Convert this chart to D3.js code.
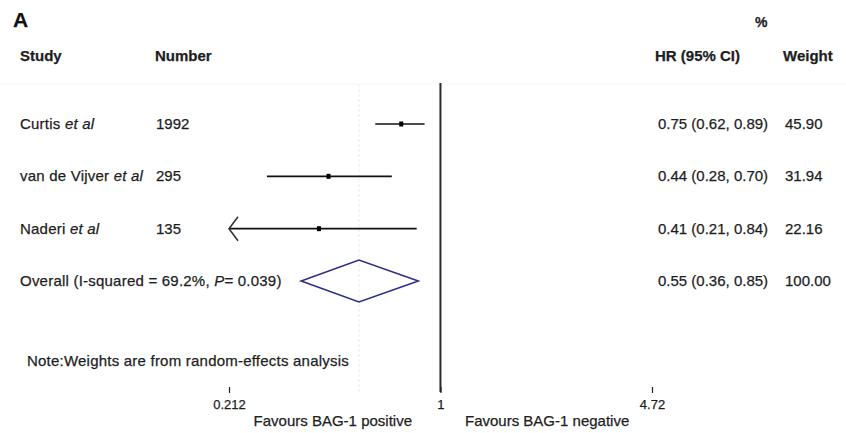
<!DOCTYPE html>
<html>
<head>
<meta charset="utf-8">
<script src="https://cdn.jsdelivr.net/npm/d3@7"></script>
<style>
  html, body { margin: 0; padding: 0; background: #fff; }
  svg { display: block; font-family: "Liberation Sans", Arial, sans-serif; }
  svg text { stroke: #1e1e1e; stroke-width: 0.25px; }
</style>
</head>
<body>
<svg id="chart" width="846" height="433"></svg>
<script>
// ---- data ----
const studies = ["Curtis", "van de Vijver", "Naderi"];
const numbers = ["1992", "295", "135"];
const hr = [0.75, 0.44, 0.41];
const ciLow = [0.62, 0.28, 0.21];
const ciHigh = [0.89, 0.70, 0.84];
const weights = ["45.90", "31.94", "22.16"];
const overallHR = 0.55;
const overallLow = 0.36;
const overallHigh = 0.85;
const overallWeight = "100.00";
const tickValues = [0.212, 1, 4.72];
const tickLabels = ["0.212", "1", "4.72"];

const svg = d3.select("#chart");
const textColor = "#1e1e1e";
const ls = "0.22px";

const x = d3.scaleLog().domain([0.212, 4.72]).range([229, 652]);
const y = d3.scalePoint().domain([0, 1, 2, 3]).range([124, 281]);
const xMin = x.domain()[0];

// faint top border and overall effect line
svg.append("line").attr("x1", 0).attr("x2", 846).attr("y1", 84).attr("y2", 84)
  .attr("stroke", "#f7f7f7").attr("stroke-width", 1);
svg.append("line")
  .attr("x1", x(overallHR)).attr("x2", x(overallHR))
  .attr("y1", 84).attr("y2", 392)
  .attr("stroke", "#ececec").attr("stroke-width", 1).attr("stroke-dasharray", "3,2");

// null line
svg.append("line")
  .attr("x1", x(1)).attr("x2", x(1)).attr("y1", 83).attr("y2", 392)
  .attr("stroke", "#2a2a2a").attr("stroke-width", 2);

// axis
const axis = d3.axisBottom(x).tickValues(tickValues)
  .tickFormat((d, i) => tickLabels[i]).tickSize(6).tickPadding(7);
const gAxis = svg.append("g").attr("transform", "translate(0,387)").call(axis);
gAxis.select(".domain").remove();
gAxis.selectAll(".tick line").attr("stroke", "#222").attr("stroke-width", 1.2);
gAxis.selectAll(".tick text").attr("fill", textColor)
  .style("font-size", "13px").style("font-family", "'Liberation Sans', Arial, sans-serif");

// headers
svg.append("text").attr("x", 13).attr("y", 27).text("A")
  .attr("font-size", 21).attr("font-weight", "bold").attr("fill", "#111");
const hdr = [["Study", 20], ["Number", 155], ["HR (95% CI)", 655], ["Weight", 783]];
hdr.forEach(([t, px]) => {
  svg.append("text").attr("x", px).attr("y", 61).text(t)
    .attr("font-size", 15).attr("font-weight", "bold").attr("fill", textColor);
});
svg.append("text").attr("x", 755).attr("y", 27).text("%")
  .attr("font-size", 14).attr("font-weight", "bold").attr("fill", textColor);

// study rows
studies.forEach((s, i) => {
  const yy = y(i);
  const t = svg.append("text").attr("x", 20).attr("y", yy + 5)
    .attr("font-size", 15).attr("fill", textColor).style("letter-spacing", ls);
  t.append("tspan").text(s + " ");
  t.append("tspan").attr("font-style", "italic").text("et al");

  svg.append("text").attr("x", 156).attr("y", yy + 5).text(numbers[i])
    .attr("font-size", 15).attr("fill", textColor);

  svg.append("text").attr("x", 658).attr("y", yy + 5)
    .text(`${hr[i].toFixed(2)} (${ciLow[i].toFixed(2)}, ${ciHigh[i].toFixed(2)})`)
    .attr("font-size", 15).attr("fill", textColor);
  svg.append("text").attr("x", 785).attr("y", yy + 5).text(weights[i])
    .attr("font-size", 15).attr("fill", textColor);

  // CI line (clipped to axis range)
  const lo = Math.max(ciLow[i], xMin);
  svg.append("line").attr("x1", x(lo)).attr("x2", x(ciHigh[i]))
    .attr("y1", yy).attr("y2", yy)
    .attr("stroke", "#111").attr("stroke-width", 1.7);
  if (ciLow[i] < xMin) {
    const ax = x(xMin);
    svg.append("path")
      .attr("d", `M${ax + 9},${yy - 12} L${ax},${yy} L${ax + 9},${yy + 12}`)
      .attr("fill", "none").attr("stroke", "#333").attr("stroke-width", 1.6);
  }
  // point estimate
  svg.append("rect").attr("x", x(hr[i]) - 2).attr("y", yy - 2.5)
    .attr("width", 4).attr("height", 5).attr("fill", "#000");
});

// overall row
const yo = y(3);
const to = svg.append("text").attr("x", 20).attr("y", yo + 5)
  .attr("font-size", 15).attr("fill", textColor).style("letter-spacing", ls);
to.append("tspan").text("Overall (I-squared = 69.2%, ");
to.append("tspan").attr("font-style", "italic").text("P");
to.append("tspan").text("= 0.039)");

svg.append("text").attr("x", 658).attr("y", yo + 5)
  .text(`${overallHR.toFixed(2)} (${overallLow.toFixed(2)}, ${overallHigh.toFixed(2)})`)
  .attr("font-size", 15).attr("fill", textColor);
svg.append("text").attr("x", 785).attr("y", yo + 5).text(overallWeight)
  .attr("font-size", 15).attr("fill", textColor);

svg.append("path")
  .attr("d", `M${x(overallLow)},${yo} L${x(overallHR)},${yo - 21} L${x(overallHigh)},${yo} L${x(overallHR)},${yo + 21} Z`)
  .attr("fill", "none").attr("stroke", "#2e2e86").attr("stroke-width", 1.6);

// note
svg.append("text").attr("x", 27).attr("y", 366)
  .text("Note:Weights are from random-effects analysis")
  .attr("font-size", 15).attr("fill", textColor).style("letter-spacing", ls);

// favours labels
svg.append("text").attr("x", 412).attr("y", 426).attr("text-anchor", "end")
  .text("Favours BAG-1 positive").attr("font-size", 15).attr("fill", textColor);
svg.append("text").attr("x", 465).attr("y", 426)
  .text("Favours BAG-1 negative").attr("font-size", 15).attr("fill", textColor);
</script>
</body>
</html>
